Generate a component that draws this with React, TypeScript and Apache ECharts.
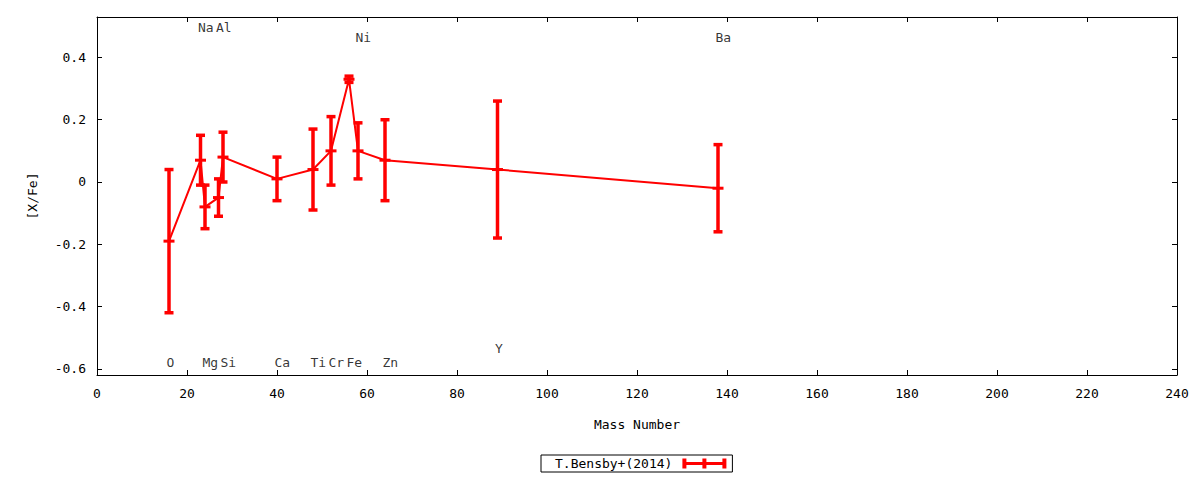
import React, { useEffect, useRef } from "react";
import * as echarts from "echarts";

// ---- data ----
const elements = ["O", "Na", "Mg", "Al", "Si", "Ca", "Ti", "Cr", "Fe", "Ni", "Zn", "Y", "Ba"];
const massNumbers = [16, 23, 24, 27, 28, 40, 48, 52, 56, 58, 64, 89, 138];
const abundances = [-0.19, 0.07, -0.08, -0.05, 0.08, 0.01, 0.04, 0.1, 0.33, 0.1, 0.07, 0.04, -0.02];
const errors = [0.23, 0.08, 0.07, 0.06, 0.08, 0.07, 0.13, 0.11, 0.01, 0.09, 0.13, 0.22, 0.14];
const labelY = [-0.58, 0.495, -0.58, 0.495, -0.58, -0.58, -0.58, -0.58, -0.58, 0.465, -0.58, -0.535, 0.465];
const yTicks = [-0.6, -0.4, -0.2, 0, 0.2, 0.4];
const seriesName = "T.Bensby+(2014)";

const RED = "#ff0000";
const FONT = "'DejaVu Sans Mono', 'Liberation Mono', monospace";

export default function App() {
  const ref = useRef<HTMLDivElement>(null);

  useEffect(() => {
    document.body.style.margin = "0";
    if (!ref.current) return;
    const chart = echarts.init(ref.current, null, { renderer: "svg" });

    const lineData = massNumbers.map((m, i) => [m, abundances[i]]);
    const errData = massNumbers.map((m, i) => [m, abundances[i], abundances[i] - errors[i], abundances[i] + errors[i]]);
    const labelData = massNumbers.map((m, i) => [m, labelY[i]]);

    const fmt = (v: number) => {
      const r = Math.round(v * 10) / 10;
      return r === 0 ? "0" : String(r);
    };

    const commonTick = { show: true, inside: true, length: 5, lineStyle: { color: "#000", width: 1 } };
    const axisLine = { show: true, onZero: false, lineStyle: { color: "#000", width: 1 } };

    chart.setOption({
      animation: false,
      textStyle: { fontFamily: FONT },
      grid: { left: 97, right: 23, top: 17, bottom: 105, outerBoundsMode: "none", containLabel: false },
      legend: {
        show: true,
        left: 541,
        top: 455,
        orient: "horizontal",
        align: "right",
        itemWidth: 44,
        itemHeight: 10,
        padding: [2, 6, 2, 14],
        borderColor: "#000",
        borderWidth: 1,
        borderRadius: 0,
        backgroundColor: "#fff",
        selectedMode: false,
        textStyle: { fontFamily: FONT, fontSize: 13, color: "#000", padding: [0, 5, 0, 0] },
        itemStyle: { color: RED, borderWidth: 0 },
        data: [
          {
            name: seriesName,
            icon: "path://M0,3.4H44V6.6H0Z M0,0H4V10H0Z M40,0H44V10H40Z M20,0H24V10H20Z",
          },
        ],
      },
      xAxis: [
        {
          type: "value",
          position: "bottom",
          min: 0,
          max: 240,
          interval: 20,
          name: "Mass Number",
          nameLocation: "middle",
          nameGap: 43,
          nameTextStyle: { fontFamily: FONT, fontSize: 13, color: "#000" },
          axisLine,
          axisTick: commonTick,
          axisLabel: { fontFamily: FONT, fontSize: 13, color: "#000", margin: 12 },
          splitLine: { show: false },
        },
        {
          type: "value",
          position: "top",
          min: 0,
          max: 240,
          interval: 20,
          axisLine,
          axisTick: commonTick,
          axisLabel: { show: false },
          splitLine: { show: false },
        },
      ],
      yAxis: [
        {
          type: "value",
          position: "left",
          min: -0.62,
          max: 0.53,
          name: "[X/Fe]",
          nameLocation: "middle",
          nameGap: 58,
          nameRotate: 90,
          nameTextStyle: { fontFamily: FONT, fontSize: 13, color: "#000" },
          axisLine,
          axisTick: { ...commonTick, customValues: yTicks },
          axisLabel: { fontFamily: FONT, fontSize: 13, color: "#000", margin: 11, customValues: yTicks, formatter: fmt },
          splitLine: { show: false },
        },
        {
          type: "value",
          position: "right",
          min: -0.62,
          max: 0.53,
          axisLine,
          axisTick: { ...commonTick, customValues: yTicks },
          axisLabel: { show: false, customValues: yTicks },
          splitLine: { show: false },
        },
      ],
      series: [
        {
          name: seriesName,
          type: "line",
          data: lineData,
          symbol: "none",
          lineStyle: { color: RED, width: 2 },
          itemStyle: { color: RED },
          z: 2,
        },
        {
          type: "custom",
          data: errData,
          encode: { x: 0, y: [1, 2, 3] },
          z: 3,
          renderItem: (params: any, api: any) => {
            const x = api.value(0);
            const y = api.value(1);
            const lo = api.value(2);
            const hi = api.value(3);
            const p = api.coord([x, y]);
            const pl = api.coord([x, lo]);
            const ph = api.coord([x, hi]);
            const st = { stroke: RED, lineWidth: 3.5, fill: null };
            return {
              type: "group",
              children: [
                { type: "line", shape: { x1: pl[0], y1: pl[1], x2: ph[0], y2: ph[1] }, style: st },
                { type: "line", shape: { x1: pl[0] - 4.5, y1: pl[1], x2: pl[0] + 4.5, y2: pl[1] }, style: st },
                { type: "line", shape: { x1: ph[0] - 4.5, y1: ph[1], x2: ph[0] + 4.5, y2: ph[1] }, style: st },
                { type: "line", shape: { x1: p[0] - 5.5, y1: p[1], x2: p[0] + 5.5, y2: p[1] }, style: { stroke: RED, lineWidth: 3 } },
              ],
            };
          },
        },
        {
          type: "scatter",
          data: labelData,
          symbol: "circle",
          symbolSize: 1,
          itemStyle: { color: "rgba(0,0,0,0)" },
          silent: true,
          z: 4,
          label: {
            show: true,
            position: "inside",
            align: "left",
            verticalAlign: "middle",
            offset: [-2.5, 0],
            fontFamily: FONT,
            fontSize: 13,
            color: "#000",
            formatter: (p: any) => elements[p.dataIndex],
          },
        },
      ],
    });

    return () => chart.dispose();
  }, []);

  return <div ref={ref} style={{ width: 1200, height: 480 }} />;
}
